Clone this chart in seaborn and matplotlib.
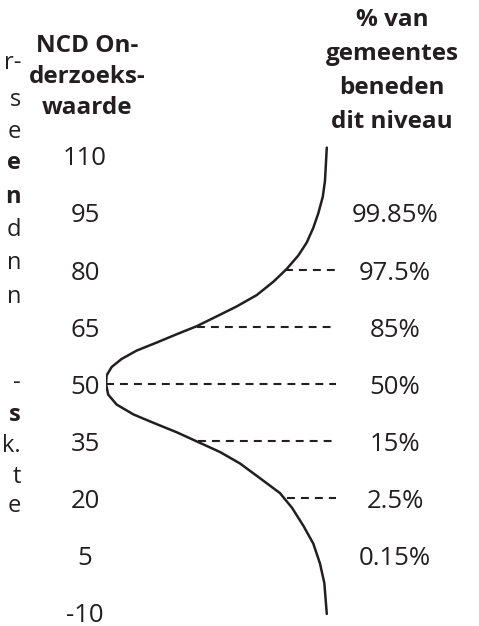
import matplotlib
matplotlib.use("Agg")
import matplotlib.pyplot as plt
import seaborn as sns

# NCD-waarden op de as en het aandeel gemeenten eronder
ncd_ticks = [110, 95, 80, 65, 50, 35, 20, 5, -10]
pct_ticks = [95, 80, 65, 50, 35, 20, 5]
pct_labels = ["99.85%", "97.5%", "85%", "50%", "15%", "2.5%", "0.15%"]

# verdelingscurve (relatieve dichtheid 0..1)
curve_v = [112.2, 107.9, 103.6, 99.3, 95.0, 91.1, 87.2, 83.8, 80.3, 76.9, 73.4, 70.4,
           67.8, 65.2, 63.1, 60.9, 58.8, 56.6, 54.5, 52.3, 50.0, 47.2, 44.6, 42.0,
           39.8, 37.3, 34.7, 32.1, 29.1, 25.2, 21.3, 17.4, 12.7, 8.0, 2.8, -2.4, -10.5]
curve_w = [0.001, 0.005, 0.009, 0.019, 0.039, 0.062, 0.092, 0.130, 0.182, 0.243, 0.318, 0.409,
           0.499, 0.590, 0.680, 0.771, 0.861, 0.929, 0.974, 0.997, 1.0, 0.990, 0.952, 0.876,
           0.786, 0.680, 0.582, 0.484, 0.394, 0.303, 0.213, 0.158, 0.107, 0.062, 0.032, 0.012, 0.001]

# streeplijnen naar de percentagelabels
cut_v = [80, 65, 50, 35, 20]
cut_w = [0.19, 0.588, 1.0, 0.584, 0.181]

# afgesneden tekst aan de linkerrand
frag_text = ["r-", "s", "e", "e", "n", "d", "n", "n", "-", "s", "k.", "t", "e"]
frag_y = [63, 100, 132, 163, 197, 230, 263, 297, 383, 415, 446, 477, 506]
frag_bold = [False, False, False, True, True, False, False, False, False, True, False, False, False]

INK = "#231f20"
W, H = 479, 626

sns.set_style("white")
plt.rcParams['font.family'] = ['Open Sans', 'DejaVu Sans']

fig = plt.figure(figsize=(W / 100, H / 100), dpi=100)
ax = fig.add_axes([106 / W, 0, (340 - 106) / W, 1])

sns.lineplot(x=curve_w, y=curve_v, sort=False, estimator=None, color=INK, lw=1.8, ax=ax)
ax.hlines(cut_v, cut_w, -0.041, colors=INK, lw=1.5, linestyles=(0, (3.8, 2.9)))

ax.set_xlim(1.0, -0.0588)
ax.set_ylim(-13.68, 151.05)
ax.set_xticks([])
ax.set_xlabel("")
ax.set_ylabel("")
ax.set_yticks(ncd_ticks)
ax.set_yticklabels([str(t) for t in ncd_ticks])
ax.tick_params(axis="y", length=0, pad=15.1, labelsize=18.5, labelcolor=INK)
for lbl in ax.get_yticklabels():
    lbl.set_ha("center")

ax2 = ax.twinx()
ax2.set_ylim(ax.get_ylim())
ax2.set_yticks(pct_ticks)
ax2.set_yticklabels(pct_labels)
ax2.tick_params(axis="y", length=0, pad=39.6, labelsize=18.5, labelcolor=INK)
for lbl in ax2.get_yticklabels():
    lbl.set_ha("center")

for a in (ax, ax2):
    for s in a.spines.values():
        s.set_visible(False)
    a.set_facecolor("none")

fig.text(87 / W, 1 - 34 / H, "NCD On-\nderzoeks-\nwaarde", ha="center", va="top",
         fontsize=17.5, fontweight="bold", color=INK, linespacing=1.4)
fig.text(392 / W, 1 - 8 / H, "% van\ngemeentes\nbeneden\ndit niveau", ha="center", va="top",
         fontsize=17.5, fontweight="bold", color=INK, linespacing=1.55)

for t, y, b in zip(frag_text, frag_y, frag_bold):
    fig.text(21 / W, 1 - y / H, t, ha="right", va="center", fontsize=17,
             fontweight="bold" if b else "normal", color=INK)

fig.savefig("out.png", dpi=100)
